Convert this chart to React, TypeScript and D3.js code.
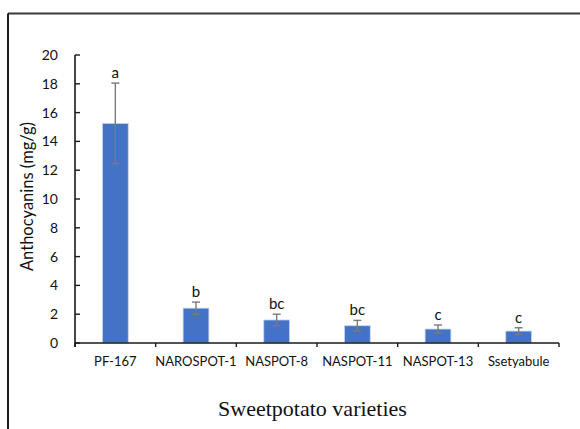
import * as d3 from "d3";

const varieties = ["PF-167", "NAROSPOT-1", "NASPOT-8", "NASPOT-11", "NASPOT-13", "Ssetyabule"];
const means = [15.25, 2.42, 1.6, 1.2, 0.97, 0.83];
const errors = [2.8, 0.42, 0.4, 0.37, 0.28, 0.23];
const letters = ["a", "b", "bc", "bc", "c", "c"];
const yTicks = [0, 2, 4, 6, 8, 10, 12, 14, 16, 18, 20];

const W = 580;
const H = 429;
const left = 75;
const right = 559;
const top = 55;
const bottom = 343;

const font = "Lato, 'Open Sans', sans-serif";

export default function App() {
  const x = d3
    .scaleBand<string>()
    .domain(varieties)
    .range([left, right])
    .paddingInner(0.68)
    .paddingOuter(0.34);
  const y = d3.scaleLinear().domain([0, 20]).range([bottom, top]);

  const step = x.step();
  const boundaries = d3.range(varieties.length + 1).map((i) => left + i * step);

  return (
    <svg
      width={W}
      height={H}
      style={{ position: "absolute", left: 0, top: 0, background: "#fff" }}
    >
      {/* outer frame, cut at right and bottom */}
      <line x1={8} x2={W + 2} y1={13.5} y2={13.5} stroke="#3a3a3a" strokeWidth={2} />
      <line x1={8} x2={8} y1={13.5} y2={H + 2} stroke="#1e1e1e" strokeWidth={2} />

      {/* bars */}
      {varieties.map((v, i) => (
        <rect
          key={v}
          x={x(v)}
          y={y(means[i])}
          width={x.bandwidth()}
          height={y(0) - y(means[i])}
          fill="#4472C4"
          stroke="#c9d8f0"
          strokeWidth={0.8}
        />
      ))}

      {/* error bars */}
      {varieties.map((v, i) => {
        const cx = (x(v) ?? 0) + x.bandwidth() / 2;
        const y1 = y(means[i] + errors[i]);
        const y2 = y(means[i] - errors[i]);
        return (
          <g key={v} stroke="#7a7a7a" strokeWidth={1.4}>
            <line x1={cx} x2={cx} y1={y1} y2={y2} />
            <line x1={cx - 4} x2={cx + 4} y1={y1} y2={y1} />
            <line x1={cx - 4} x2={cx + 4} y1={y2} y2={y2} />
          </g>
        );
      })}

      {/* significance letters */}
      {varieties.map((v, i) => (
        <text
          key={v}
          x={(x(v) ?? 0) + x.bandwidth() / 2}
          y={y(means[i] + errors[i]) - 5}
          textAnchor="middle"
          fontFamily={font}
          fontSize={15}
          fill="#111"
        >
          {letters[i]}
        </text>
      ))}

      {/* y axis */}
      <line x1={left} x2={left} y1={top} y2={bottom + 4} stroke="#1a1a1a" strokeWidth={1.6} />
      {yTicks.map((t) => (
        <g key={t}>
          <line x1={left} x2={left + 5} y1={y(t)} y2={y(t)} stroke="#1a1a1a" strokeWidth={1.4} />
          <text
            x={58}
            y={y(t)}
            dy="0.35em"
            textAnchor="end"
            fontFamily={font}
            fontSize={14}
            fill="#111"
          >
            {t}
          </text>
        </g>
      ))}

      {/* x axis */}
      <line x1={left} x2={right} y1={bottom} y2={bottom} stroke="#1a1a1a" strokeWidth={1.6} />
      {boundaries.map((b, i) => (
        <line key={i} x1={b} x2={b} y1={bottom} y2={bottom + 4} stroke="#1a1a1a" strokeWidth={1.4} />
      ))}
      {varieties.map((v) => (
        <text
          key={v}
          x={(x(v) ?? 0) + x.bandwidth() / 2}
          y={bottom + 23}
          textAnchor="middle"
          fontFamily={font}
          fontSize={13}
          fill="#111"
        >
          {v}
        </text>
      ))}

      {/* axis titles */}
      <text
        transform={`translate(33,196.5) rotate(-90)`}
        textAnchor="middle"
        fontFamily={font}
        fontSize={16.5}
        fill="#111"
      >
        Anthocyanins (mg/g)
      </text>
      <text
        x={312.5}
        y={416}
        textAnchor="middle"
        fontFamily="'Liberation Serif', 'DejaVu Serif', serif"
        fontSize={22}
        fill="#111"
      >
        Sweetpotato varieties
      </text>
    </svg>
  );
}
